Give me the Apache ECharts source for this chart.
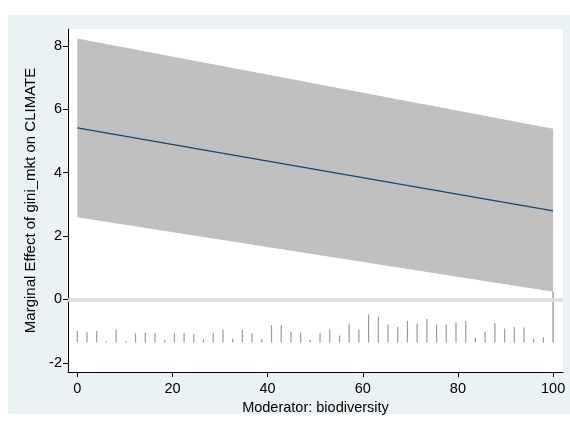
<!DOCTYPE html>
<html>
<head>
<meta charset="utf-8">
<script src="https://cdn.jsdelivr.net/npm/echarts@6/dist/echarts.min.js"></script>
<style>
html,body{margin:0;padding:0;background:#fff;}
#chart{width:570px;height:421px;}
</style>
</head>
<body>
<div id="chart"></div>
<script>
// Data
var xTicks = [0, 20, 40, 60, 80, 100];
var yTicks = [-2, 0, 2, 4, 6, 8];
var bandX = [0, 100];
var bandUpper = [8.23, 5.38];
var bandLower = [2.59, 0.24];
var effectX = [0, 100];
var effectY = [5.41, 2.79];
var rugBase = -1.36;
var rugX = [0, 2.04, 4.08, 6.12, 8.16, 10.2, 12.24, 14.29, 16.33, 18.37, 20.41, 22.45, 24.49, 26.53, 28.57, 30.61, 32.65, 34.69, 36.73, 38.78, 40.82, 42.86, 44.9, 46.94, 48.98, 51.02, 53.06, 55.1, 57.14, 59.18, 61.22, 63.27, 65.31, 67.35, 69.39, 71.43, 73.47, 75.51, 77.55, 79.59, 81.63, 83.67, 85.71, 87.76, 89.8, 91.84, 93.88, 95.92, 97.96, 100];
var rugTop = [-1.0, -1.02, -1.0, -1.31, -0.95, -1.31, -1.07, -1.05, -1.05, -1.28, -1.07, -1.05, -1.08, -1.26, -1.05, -0.95, -1.24, -0.95, -1.07, -1.24, -0.81, -0.81, -1.02, -1.05, -1.27, -1.05, -0.95, -1.14, -0.76, -0.95, -0.47, -0.55, -0.79, -0.86, -0.68, -0.76, -0.61, -0.80, -0.80, -0.73, -0.68, -1.21, -1.02, -0.75, -0.92, -0.88, -0.89, -1.24, -1.19, 0.24];

var chart = echarts.init(document.getElementById('chart'), null, {renderer: 'canvas'});
var fontFam = '"Liberation Sans", Arial, sans-serif';

var bandData = bandX.map(function (x, i) { return [x, bandLower[i], bandUpper[i]]; });
var rugData = rugX.map(function (x, i) { return [x, rugBase, rugTop[i]]; });

var option = {
  animation: false,
  backgroundColor: '#ffffff',
  graphic: [{
    type: 'rect', z: -10, silent: true,
    shape: {x: 8, y: 15, width: 562, height: 399},
    style: {fill: '#eaf2f3'}
  }],
  grid: {left: 68, right: 7, top: 29, bottom: 49, show: true, backgroundColor: '#ffffff', borderWidth: 0},
  xAxis: {
    type: 'value', min: -1.95, max: 102.08,
    name: 'Moderator: biodiversity', nameLocation: 'middle', nameGap: 25,
    nameTextStyle: {color: '#000', fontSize: 14.5, fontFamily: fontFam},
    axisLine: {show: true, onZero: false, lineStyle: {color: '#000', width: 1}},
    axisTick: {show: true, length: 5, customValues: xTicks, lineStyle: {color: '#000'}},
    axisLabel: {customValues: xTicks, color: '#000', fontSize: 14.5, fontFamily: fontFam, margin: 9},
    splitLine: {show: false}
  },
  yAxis: {
    type: 'value', min: -2.29, max: 8.53,
    name: 'Marginal Effect of gini_mkt on CLIMATE', nameLocation: 'middle', nameGap: 25,
    nameTextStyle: {color: '#000', fontSize: 15, fontFamily: fontFam},
    axisLine: {show: true, onZero: false, lineStyle: {color: '#000', width: 1}},
    axisTick: {show: true, length: 5, customValues: yTicks, lineStyle: {color: '#000'}},
    axisLabel: {customValues: yTicks, color: '#000', fontSize: 14.5, fontFamily: fontFam, margin: 6},
    splitLine: {show: false}
  },
  series: [
    {
      type: 'line', data: [], z: 1, silent: true,
      markLine: {
        silent: true, symbol: 'none', label: {show: false},
        lineStyle: {color: '#dcdcdc', width: 3.5, type: 'solid'},
        data: [{yAxis: 0}]
      }
    },
    {
      type: 'custom', z: 2, silent: true,
      data: bandData,
      renderItem: function (params, api) {
        if (params.dataIndex !== 0) return null;
        var pts = [];
        for (var i = 0; i < bandData.length; i++) pts.push(api.coord([bandData[i][0], bandData[i][2]]));
        for (var j = bandData.length - 1; j >= 0; j--) pts.push(api.coord([bandData[j][0], bandData[j][1]]));
        return {type: 'polygon', shape: {points: pts}, style: {fill: '#c0c0c0', stroke: null}};
      },
      encode: {x: 0, y: [1, 2]}
    },
    {
      type: 'line', z: 3, silent: true, symbol: 'none',
      data: effectX.map(function (x, i) { return [x, effectY[i]]; }),
      lineStyle: {color: '#1a476f', width: 1.2}
    },
    {
      type: 'custom', z: 4, silent: true,
      data: rugData,
      renderItem: function (params, api) {
        var p0 = api.coord([api.value(0), api.value(1)]);
        var p1 = api.coord([api.value(0), api.value(2)]);
        var last = params.dataIndex === rugData.length - 1;
        return {type: 'line', shape: {x1: p0[0], y1: p0[1], x2: p1[0], y2: p1[1]},
          style: {stroke: last ? '#8a8a8a' : '#9a9a9a', lineWidth: 1.2}};
      },
      encode: {x: 0, y: [1, 2]}
    }
  ]
};
chart.setOption(option);
</script>
</body>
</html>
